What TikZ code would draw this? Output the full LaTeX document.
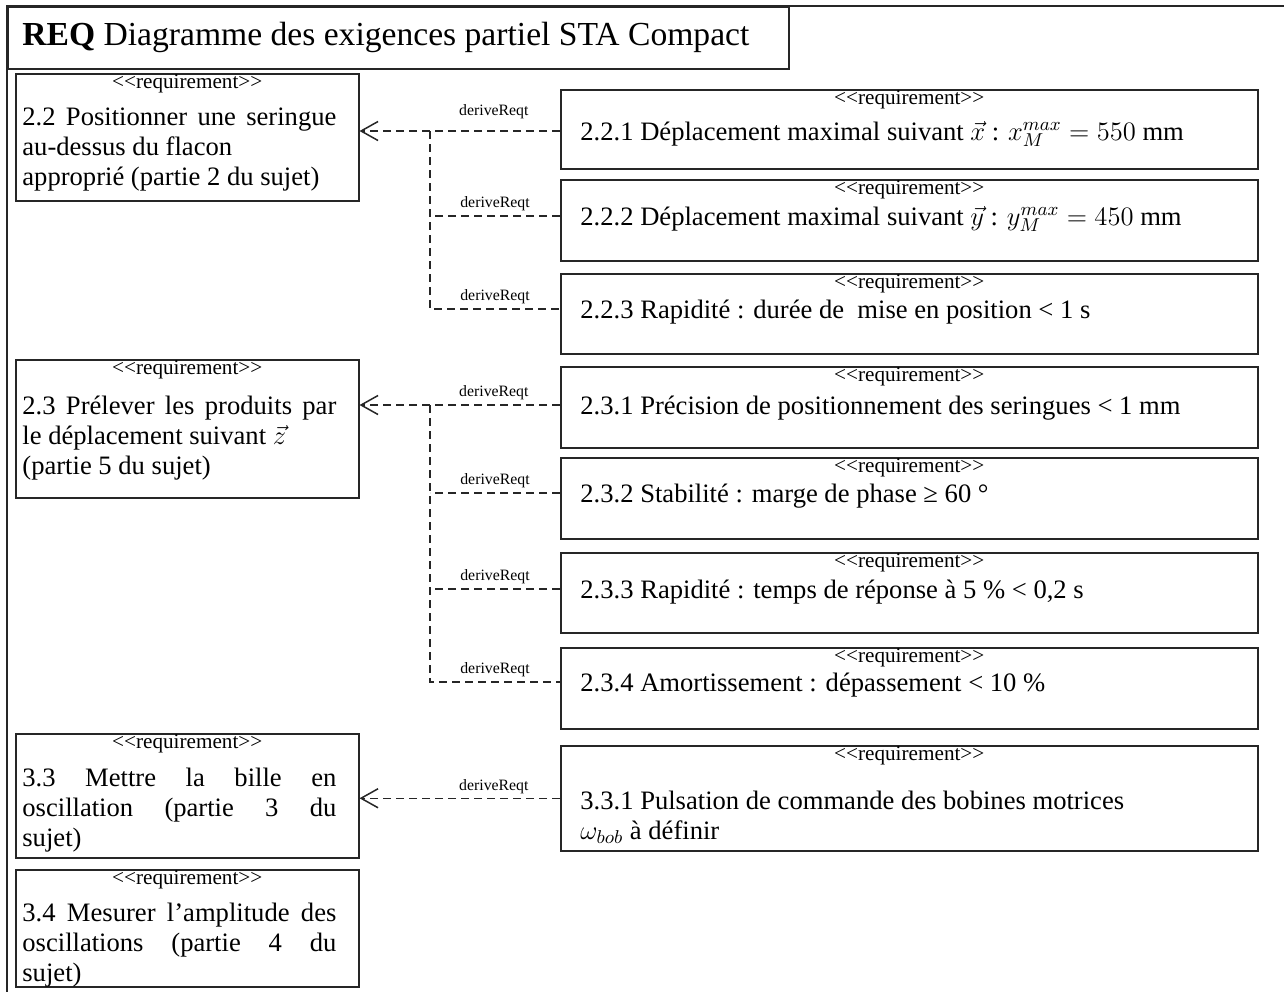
\documentclass[tikz,border=0pt]{standalone}
\usepackage{fix-cm}
\usepackage{fontspec}
\setmainfont{Liberation Serif}
\usetikzlibrary{arrows.meta}
\newcommand\jl[1]{\makebox[157pt][s]{\spaceskip=0.25em plus 1fil\relax #1}}
\newcommand\rsp{\spaceskip=0pt\xspaceskip=0pt\relax}
\newcommand\bodyfnt{\fontsize{13.3}{15}\selectfont}
\newcommand\reqtxt{<\kern0pt<requirement>\kern0pt>}
\newcommand\rbox[5]{\node[box, minimum width=#4*0.5pt, minimum height=#5*0.5pt] (#1) at (#2,#3) {};}
\begin{document}
\begin{tikzpicture}[x=0.5pt, y=-0.5pt,
  box/.style={draw=black!85, line width=0.75pt, anchor=north west, inner sep=0, fill=white},
  frame/.style={draw=black!85, line width=1.1pt},
  req/.style={font=\fontsize{10.6}{12}\selectfont, inner sep=0},
  ltext/.style={anchor=north west, inner sep=0, text width=157pt, align=left, font=\bodyfnt},
  rtext/.style={anchor=west, inner sep=0, text height=11pt, text depth=2pt, font=\bodyfnt},
  dep/.style={draw=black!85, line width=0.75pt, dash pattern=on 4pt off 2.5pt},
  derive/.style={dep, -{Straight Barb[length=8.5pt, width=9.5pt]}},
  lbl/.style={font=\fontsize{7.9}{9}\selectfont, inner sep=0, above=2pt}
]
\useasboundingbox (0,0) rectangle (1284,992);
% outer frame
\draw[frame] (1284,6) -- (7,6) -- (7,992);
\node[draw=black!85, line width=1.1pt, anchor=north west, inner sep=0, minimum width=781*0.5pt, minimum height=62*0.5pt] (titlebox) at (7,6) {};
\node[anchor=west, inner sep=0, font=\fontsize{16.8}{19}\selectfont] (title) at (22,37) {\textbf{REQ} Diagramme des exigences partiel STA Compact};

% left boxes
\rbox{b22}{15}{73}{343}{127}
\rbox{b23}{15}{359}{343}{138}
\rbox{b33}{15}{733}{343}{124}
\rbox{b34}{15}{869}{343}{117}
\node[req] (b22r) at ([yshift=-5.5pt]b22.north) {\reqtxt};
\node[req] (b23r) at ([yshift=-5.5pt]b23.north) {\reqtxt};
\node[req] (b33r) at ([yshift=-5.5pt]b33.north) {\reqtxt};
\node[req] (b34r) at ([yshift=-5.5pt]b34.north) {\reqtxt};
\node[ltext] (b22t) at (22,104) {\rsp\strut\jl{2.2 Positionner une seringue}\\au-dessus du flacon\\approprié (partie 2 du sujet)};
\node[ltext] (b23t) at (22,393) {\rsp\strut\jl{2.3 Prélever les produits par}\\le déplacement suivant $\vec{z}$\\(partie 5 du sujet)};
\node[ltext] (b33t) at (22,765) {\rsp\strut\jl{3.3 Mettre la bille en}\\\jl{oscillation (partie 3 du}\\sujet)};
\node[ltext] (b34t) at (22,900) {\rsp\strut\jl{3.4 Mesurer l’amplitude des}\\\jl{oscillations (partie 4 du}\\sujet)};

% right boxes
\rbox{b221}{560}{89}{697}{79}
\rbox{b222}{560}{179}{697}{81}
\rbox{b223}{560}{273}{697}{80}
\rbox{b231}{560}{366}{697}{81}
\rbox{b232}{560}{457}{697}{81}
\rbox{b233}{560}{552}{697}{80}
\rbox{b234}{560}{647}{697}{81}
\rbox{b331}{560}{745}{697}{105}
\foreach \b in {b221,b222,b223,b231,b232,b233,b234,b331}{
  \node[req] (\b r) at ([yshift=-5.5pt]\b.north) {\reqtxt};
}
\node[rtext] (b221t) at (580,131) {2.2.1 Déplacement maximal suivant $\vec{x}$ : $x_M^{max} = 550$ mm};
\node[rtext] (b222t) at (580,216) {2.2.2 Déplacement maximal suivant $\vec{y}$ : $y_M^{max} = 450$ mm};
\node[rtext] (b223t) at (580,309) {2.2.3 Rapidité : durée de~ mise en position < 1 s};
\node[rtext] (b231t) at (580,405) {2.3.1 Précision de positionnement des seringues < 1 mm};
\node[rtext] (b232t) at (580,493) {2.3.2 Stabilité : marge de phase ≥ 60 °};
\node[rtext] (b233t) at (580,589) {2.3.3 Rapidité : temps de réponse à 5 \% < 0,2 s};
\node[rtext] (b234t) at (580,682) {2.3.4 Amortissement : dépassement < 10 \%};
\node[ltext, text width=330pt] (b331t) at (580,788) {\rsp\strut 3.3.1 Pulsation de commande des bobines motrices\\$\omega_{bob}$ à définir};

% junctions
\coordinate (j22) at (430,131);
\coordinate (j23) at (430,405);

% connectors group 2.2
\draw[derive] (b221.west|-b221t.west) -- node[lbl, pos=0.33, above=3.5pt]{deriveReqt} (b22.east|-b221t.west);
\draw[dep] (j22|-b221t.west) -- (j22|-b223t.west) -- node[lbl]{deriveReqt} (b223.west|-b223t.west);
\draw[dep] (b222.west|-b222t.west) -- node[lbl]{deriveReqt} (j22|-b222t.west);

% connectors group 2.3
\draw[derive] (b231.west|-b231t.west) -- node[lbl, pos=0.33]{deriveReqt} (b23.east|-b231t.west);
\draw[dep] (j23|-b231t.west) -- (j23|-b234t.west) -- node[lbl]{deriveReqt} (b234.west|-b234t.west);
\draw[dep] (b232.west|-b232t.west) -- node[lbl]{deriveReqt} (j23|-b232t.west);
\draw[dep] (b233.west|-b233t.west) -- node[lbl]{deriveReqt} (j23|-b233t.west);

% connector 3.3
\draw[derive] (b331.west) -- node[lbl, pos=0.33]{deriveReqt} (b33.east|-b331.west);
\end{tikzpicture}
\end{document}
